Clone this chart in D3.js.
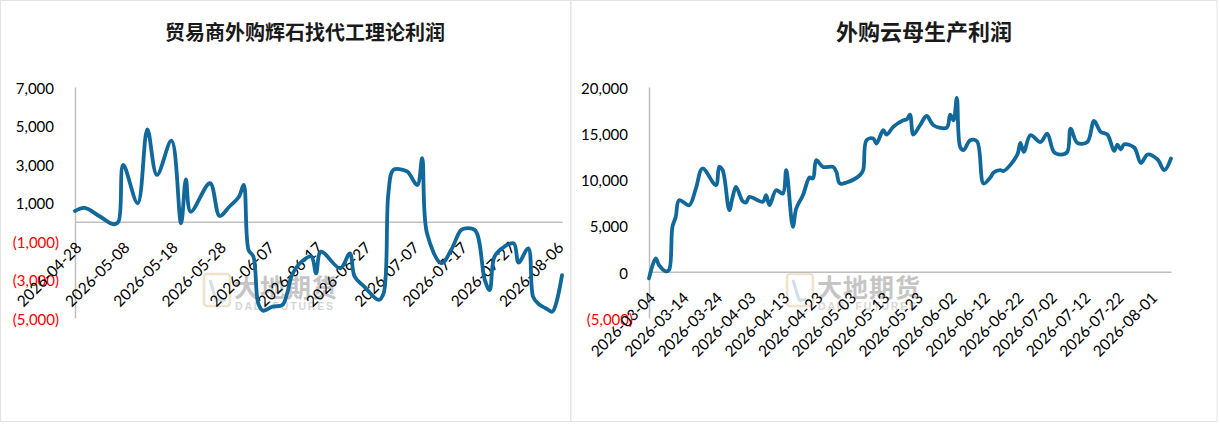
<!DOCTYPE html>
<html>
<head>
<meta charset="utf-8">
<script src="https://cdn.jsdelivr.net/npm/d3@7"></script>
<style>
  body { margin: 0; background: #fff; }
  svg { display: block; }
</style>
</head>
<body>
<div id="chart"></div>
<script>
// left panel: 贸易商外购辉石找代工理论利润
const leftDates = [
  "2026-04-28","2026-04-30","2026-05-03","2026-05-06","2026-05-07","2026-05-08",
  "2026-05-11","2026-05-13","2026-05-15","2026-05-18","2026-05-20","2026-05-21",
  "2026-05-22","2026-05-26","2026-05-28","2026-05-30","2026-06-01","2026-06-02",
  "2026-06-03","2026-06-04","2026-06-05","2026-06-06","2026-06-08","2026-06-10",
  "2026-06-11","2026-06-12","2026-06-14","2026-06-16","2026-06-17","2026-06-18",
  "2026-06-22","2026-06-24","2026-06-25","2026-06-27","2026-06-30","2026-07-01",
  "2026-07-02","2026-07-03","2026-07-05","2026-07-06","2026-07-08","2026-07-09",
  "2026-07-10","2026-07-13","2026-07-15","2026-07-17","2026-07-18","2026-07-20",
  "2026-07-22","2026-07-23","2026-07-24","2026-07-26","2026-07-28","2026-07-29",
  "2026-07-31","2026-08-01","2026-08-02","2026-08-04","2026-08-05","2026-08-07"
];
const leftValues = [
  560, 720, 300, -130, 0, 2950,
  960, 4800, 2430, 4210, -80, 2200,
  520, 2000, 300, 780, 1300, 1910,
  -1470, -1810, -4240, -4620, -4410, -4330,
  -3720, -2770, -2070, -1810, -2680, -1550,
  -2420, -1640, -2850, -3370, -4060, -3720,
  1500, 2690, 2700, 2600, 1910, 3300,
  -600, -2160, -1470, -450, -340, -450,
  -3030, -3550, -1810, -1300, -1120, -2120,
  -1380, -3890, -4240, -4550, -4670, -2770
];
const leftTicks = [7000, 5000, 3000, 1000, -1000, -3000, -5000];
const leftDateTicks = [
  "2026-04-28","2026-05-08","2026-05-18","2026-05-28","2026-06-07","2026-06-17",
  "2026-06-27","2026-07-07","2026-07-17","2026-07-27","2026-08-06"
];

// right panel: 外购云母生产利润
const rightDates = [
  "2026-03-04","2026-03-06","2026-03-07","2026-03-09","2026-03-10","2026-03-11",
  "2026-03-12","2026-03-13","2026-03-16","2026-03-18","2026-03-20","2026-03-24",
  "2026-03-25","2026-03-26","2026-03-28","2026-03-29","2026-03-30","2026-04-01",
  "2026-04-02","2026-04-03","2026-04-07","2026-04-08","2026-04-09","2026-04-11",
  "2026-04-13","2026-04-14","2026-04-16","2026-04-17","2026-04-19","2026-04-21",
  "2026-04-22","2026-04-23","2026-04-25","2026-04-28","2026-04-29","2026-04-30",
  "2026-05-02","2026-05-06","2026-05-07","2026-05-08","2026-05-10","2026-05-11",
  "2026-05-13","2026-05-14","2026-05-16","2026-05-19","2026-05-20","2026-05-21",
  "2026-05-22","2026-05-24","2026-05-26","2026-05-28","2026-06-01","2026-06-02",
  "2026-06-03","2026-06-04","2026-06-05","2026-06-06","2026-06-08","2026-06-10",
  "2026-06-12","2026-06-14","2026-06-15","2026-06-17","2026-06-18","2026-06-22",
  "2026-06-23","2026-06-24","2026-06-26","2026-06-29","2026-07-01","2026-07-03",
  "2026-07-05","2026-07-07","2026-07-08","2026-07-10","2026-07-13","2026-07-15",
  "2026-07-17","2026-07-19","2026-07-21","2026-07-22","2026-07-23","2026-07-24",
  "2026-07-27","2026-07-29","2026-07-31","2026-08-03","2026-08-05","2026-08-07"
];
const rightValues = [
  -710, 1450, 720, 50, 200, 4870,
  5950, 7750, 7210, 9010, 11180, 9370,
  11350, 11000, 6670, 8110, 9190, 7640,
  7500, 8110, 7570, 8290, 7210, 8830,
  8470, 11000, 4870, 6850, 8290, 10200,
  10100, 12080, 11350, 11350, 10810, 9560,
  9660, 10450, 11000, 14240, 14420, 13880,
  15320, 14850, 15680, 16400, 16480, 17020,
  14850, 15860, 16860, 15860, 15610, 17020,
  16400, 18810, 13510, 13160, 14240, 14130,
  9560, 10200, 10750, 11000, 10920, 12620,
  13950, 12970, 14780, 14050, 14960, 12970,
  12690, 12970, 15500, 13950, 14050, 16320,
  15140, 14850, 13080, 13770, 13230, 13800,
  13450, 11780, 12690, 12150, 11000, 12260
];
const rightTicks = [20000, 15000, 10000, 5000, 0, -5000];
const rightDateTicks = [
  "2026-03-04","2026-03-14","2026-03-24","2026-04-03","2026-04-13","2026-04-23",
  "2026-05-03","2026-05-13","2026-05-23","2026-06-02","2026-06-12","2026-06-22",
  "2026-07-02","2026-07-12","2026-07-22","2026-08-01"
];

const W = 1220, H = 424;
const lineColor = "#11689a";
const parse = d3.timeParse("%Y-%m-%d");
const fmtDate = d3.timeFormat("%Y-%m-%d");
const numFont = "Lato, 'Liberation Sans', sans-serif";

const svg = d3.select("#chart").append("svg")
  .attr("width", W)
  .attr("height", H);

svg.append("rect").attr("width", W).attr("height", H).attr("fill", "#fff");

// panel frames
svg.append("rect").attr("x", 0.5).attr("y", 0.5).attr("width", 570).attr("height", 421)
  .attr("fill", "none").attr("stroke", "#e3e3e3");
svg.append("rect").attr("x", 571).attr("y", 0.5).attr("width", 646).attr("height", 421)
  .attr("fill", "none").attr("stroke", "#e3e3e3");

function watermark(g, x, y) {
  const w = g.append("g").attr("transform", `translate(${x},${y})`).attr("opacity", 0.5);
  w.append("rect").attr("x", 0).attr("y", 0).attr("width", 26).attr("height", 32)
    .attr("rx", 3).attr("fill", "none").attr("stroke", "#e0c89a").attr("stroke-width", 2.5);
  w.append("path").attr("d", "M6,6 L12,26 L22,26")
    .attr("fill", "none").attr("stroke", "#a9bcd0").attr("stroke-width", 3);
  w.append("text").attr("x", 30).attr("y", 23)
    .attr("font-family", "'Noto Sans CJK SC', sans-serif").attr("font-weight", "bold")
    .attr("font-size", 25).attr("fill", "#8c8c8c").attr("letter-spacing", 1)
    .text("大地期货");
  w.append("text").attr("x", 31).attr("y", 36)
    .attr("font-family", "'Liberation Sans', sans-serif").attr("font-weight", "bold")
    .attr("font-size", 10.5).attr("fill", "#b0b0b0").attr("letter-spacing", 1.8)
    .text("DADI FUTURES");
}

function panel(opt) {
  const data = opt.dates.map((d, i) => ({date: parse(d), value: opt.values[i]}));
  const x = d3.scaleTime()
    .domain(d3.extent(data, d => d.date))
    .range([opt.x0, opt.x1]);
  const y = d3.scaleLinear()
    .domain([opt.ticks[opt.ticks.length - 1], opt.ticks[0]])
    .range([318, 87]);

  const g = svg.append("g");

  // title
  g.append("text")
    .attr("x", opt.titleX).attr("y", 40)
    .attr("text-anchor", "middle")
    .attr("font-family", "'Noto Sans CJK SC', sans-serif")
    .attr("font-weight", "bold")
    .attr("font-size", opt.titleSize)
    .attr("fill", "#1a1a1a")
    .text(opt.title);

  watermark(g, opt.wmX, 274);

  // y axis
  const yAxis = g.append("g")
    .attr("transform", `translate(${opt.x0},0)`)
    .call(d3.axisLeft(y).tickValues(opt.ticks).tickSize(0).tickSizeOuter(0)
      .tickFormat(v => v < 0 ? "(" + d3.format(",")(-v) + ")" : d3.format(",")(v)));
  yAxis.select(".domain").attr("stroke", "#bfbfbf").attr("stroke-width", 1.5);
  yAxis.selectAll("text")
    .attr("x", v => v < 0 ? -16 : -21)
    .attr("dy", "0.42em")
    .attr("font-family", numFont)
    .attr("font-size", 15)
    .attr("fill", v => v < 0 ? "#ff0000" : "#000");

  // x axis sits on the zero line
  const xAxis = g.append("g")
    .attr("transform", `translate(0,${y(0)})`)
    .call(d3.axisBottom(x).tickValues(opt.dateTicks.map(parse)).tickSize(0).tickSizeOuter(0)
      .tickFormat(fmtDate));
  xAxis.select(".domain").attr("stroke", "#bfbfbf").attr("stroke-width", 1.5);
  xAxis.selectAll("text")
    .attr("text-anchor", "end")
    .attr("y", 0).attr("dy", 0)
    .attr("transform", "translate(7,27) rotate(-45)")
    .attr("font-family", numFont)
    .attr("font-size", 15.5)
    .attr("fill", "#000");

  // series
  const line = d3.line()
    .x(d => x(d.date))
    .y(d => y(d.value))
    .curve(d3.curveCatmullRom.alpha(0.5));

  g.append("path")
    .datum(data)
    .attr("fill", "none")
    .attr("stroke", lineColor)
    .attr("stroke-width", 3.8)
    .attr("stroke-linejoin", "round")
    .attr("stroke-linecap", "round")
    .attr("d", line);
}

panel({
  title: "贸易商外购辉石找代工理论利润", titleX: 305, titleSize: 20,
  dates: leftDates, values: leftValues, ticks: leftTicks, dateTicks: leftDateTicks,
  x0: 75, x1: 562, wmX: 204
});

panel({
  title: "外购云母生产利润", titleX: 924, titleSize: 22,
  dates: rightDates, values: rightValues, ticks: rightTicks, dateTicks: rightDateTicks,
  x0: 649, x1: 1171, wmX: 787
});
</script>
</body>
</html>
